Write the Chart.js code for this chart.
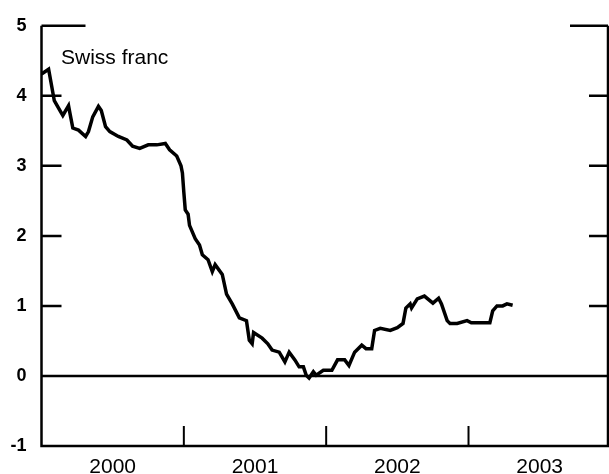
<!DOCTYPE html>
<html>
<head>
<meta charset="utf-8">
<script src="https://cdn.jsdelivr.net/npm/chart.js@4/dist/chart.umd.min.js"></script>
<style>
  html, body { margin: 0; padding: 0; background: #fff; }
  #wrap { width: 609px; height: 474px; }
</style>
</head>
<body>
<div id="wrap"><canvas id="chart" width="609" height="474"></canvas></div>
<script>
// decimal years and the rate (per cent)
const dates = [
  2000.00, 2000.05, 2000.09, 2000.13, 2000.15, 2000.19, 2000.20, 2000.22, 2000.26, 2000.31,
  2000.33, 2000.36, 2000.40, 2000.42, 2000.45, 2000.48, 2000.54, 2000.60, 2000.64, 2000.69,
  2000.75, 2000.81, 2000.87, 2000.90, 2000.95, 2000.98, 2000.99, 2001.00, 2001.01, 2001.03,
  2001.04, 2001.08, 2001.11, 2001.13, 2001.17, 2001.20, 2001.22, 2001.27, 2001.30, 2001.34,
  2001.39, 2001.44, 2001.46, 2001.48, 2001.49, 2001.55, 2001.59, 2001.62, 2001.67, 2001.71,
  2001.74, 2001.78, 2001.81, 2001.84, 2001.86, 2001.88, 2001.91, 2001.93, 2001.98, 2002.04,
  2002.08, 2002.13, 2002.16, 2002.20, 2002.25, 2002.28, 2002.32, 2002.34, 2002.38, 2002.45,
  2002.50, 2002.54, 2002.56, 2002.59, 2002.60, 2002.64, 2002.69, 2002.75, 2002.79, 2002.81,
  2002.85, 2002.87, 2002.92, 2002.99, 2003.02, 2003.15, 2003.17, 2003.20, 2003.24, 2003.27,
  2003.31
]
const rates = [
  4.31, 4.38, 3.93, 3.79, 3.72, 3.86, 3.75, 3.54, 3.51, 3.42,
  3.49, 3.70, 3.85, 3.79, 3.56, 3.49, 3.42, 3.37, 3.28, 3.25,
  3.30, 3.30, 3.32, 3.23, 3.14, 3.00, 2.90, 2.62, 2.37, 2.31,
  2.15, 1.96, 1.87, 1.73, 1.66, 1.49, 1.59, 1.45, 1.17, 1.03,
  0.83, 0.79, 0.51, 0.46, 0.62, 0.54, 0.46, 0.37, 0.34, 0.20,
  0.34, 0.23, 0.13, 0.13, 0.01, -0.03, 0.06, 0.01, 0.08, 0.08,
  0.23, 0.23, 0.15, 0.34, 0.44, 0.39, 0.39, 0.65, 0.68, 0.65,
  0.69, 0.75, 0.97, 1.03, 0.97, 1.10, 1.14, 1.04, 1.11, 1.03,
  0.79, 0.75, 0.75, 0.79, 0.76, 0.76, 0.93, 1.00, 1.00, 1.03,
  1.01
]
const yearLabels = [2000, 2001, 2002, 2003]
const yearBreaks = [2001, 2002, 2003]
const yTicks = [-1, 0, 1, 2, 3, 4, 5]
const seriesName = "Swiss franc"

const font = "'Liberation Sans', Arial, sans-serif"

// frame, inward ticks, zero line and the label
const framePlugin = {
  id: 'frame',
  beforeDatasetsDraw(chart) {
    const { ctx, chartArea: a, scales } = chart
    const x = scales.x, y = scales.y
    ctx.save()
    ctx.strokeStyle = '#000'
    ctx.lineCap = 'butt'
    ctx.lineWidth = 2.5
    ctx.beginPath()
    ctx.moveTo(a.left, a.top); ctx.lineTo(a.left, a.bottom)
    ctx.lineTo(a.right, a.bottom); ctx.lineTo(a.right, a.top)
    ctx.stroke()

    // y ticks, inward both sides
    for (const v of yTicks) {
      if (v <= 0) continue
      const py = y.getPixelForValue(v)
      const lenL = v === 5 ? 44 : 20
      const lenR = v === 5 ? 38 : 19
      ctx.beginPath()
      ctx.moveTo(a.left, py); ctx.lineTo(a.left + lenL, py)
      ctx.moveTo(a.right, py); ctx.lineTo(a.right - lenR, py)
      ctx.stroke()
    }

    // year ticks up from the bottom
    ctx.lineWidth = 2
    for (const yr of yearBreaks) {
      const px = x.getPixelForValue(yr)
      ctx.beginPath()
      ctx.moveTo(px, a.bottom); ctx.lineTo(px, a.bottom - 20)
      ctx.stroke()
    }

    // zero line
    const z = y.getPixelForValue(0)
    ctx.lineWidth = 2.5
    ctx.beginPath()
    ctx.moveTo(a.left, z); ctx.lineTo(a.right, z)
    ctx.stroke()

    ctx.fillStyle = '#000'
    ctx.font = '21px ' + font
    ctx.textBaseline = 'alphabetic'
    ctx.textAlign = 'left'
    ctx.fillText(seriesName, a.left + 19.5, y.getPixelForValue(4.45))
    ctx.restore()
  }
}

new Chart(document.getElementById('chart'), {
  type: 'line',
  data: {
    datasets: [{
      label: seriesName,
      data: dates.map((d, i) => ({ x: d, y: rates[i] })),
      borderColor: '#000',
      borderWidth: 3.5,
      pointRadius: 0,
      tension: 0,
      fill: false
    }]
  },
  options: {
    responsive: false,
    animation: false,
    layout: { padding: { top: 20, right: 1, left: 0, bottom: 0 } },
    plugins: { legend: { display: false }, tooltip: { enabled: false } },
    scales: {
      x: {
        type: 'linear',
        min: 2000,
        max: 2003.98,
        afterBuildTicks: s => { s.ticks = yearLabels.map(v => ({ value: v + 0.5 })) },
        afterFit: s => { s.height = 28 },
        ticks: {
          autoSkip: false,
          maxRotation: 0,
          padding: 9,
          color: '#000',
          font: { family: font, size: 21 },
          callback: v => String(Math.floor(v))
        },
        grid: { display: false, drawTicks: false },
        border: { display: false }
      },
      y: {
        min: -1,
        max: 5,
        afterBuildTicks: s => { s.ticks = yTicks.map(v => ({ value: v })) },
        afterFit: s => { s.width = 41.5 },
        ticks: {
          padding: 15,
          color: '#000',
          font: { family: font, size: 18, weight: 'bold' }
        },
        grid: { display: false, drawTicks: false },
        border: { display: false }
      }
    }
  },
  plugins: [framePlugin]
})
</script>
</body>
</html>
